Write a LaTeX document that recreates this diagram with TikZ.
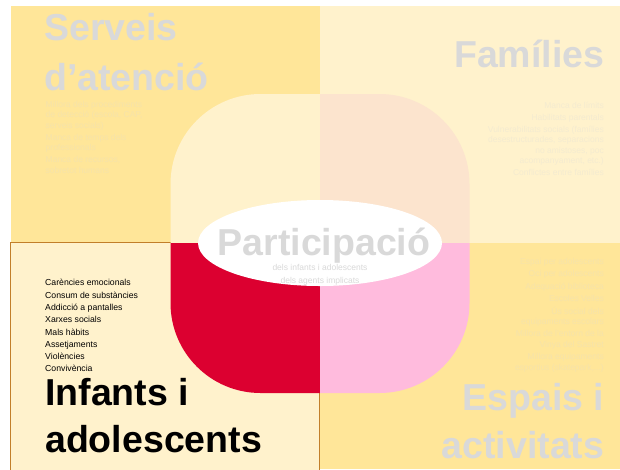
\documentclass[tikz,border=0pt]{standalone}
\usepackage{fontspec}
\setmainfont{Liberation Sans}
\usetikzlibrary{shapes.geometric}
\definecolor{gold}{HTML}{FFE699}
\definecolor{cream}{HTML}{FFF2CC}
\definecolor{peach}{HTML}{FCE4CE}
\definecolor{crimson}{HTML}{DC0030}
\definecolor{rose}{HTML}{FFBBDD}
\definecolor{headgray}{HTML}{D9D9D9}
\definecolor{framecol}{HTML}{C27F2A}
\colorlet{faintgold}{gold!75!headgray}
\colorlet{faintcream}{cream!70!headgray}
\begin{document}
\begin{tikzpicture}[x=1pt,y=-1pt,
  head/.style={font=\fontsize{37.5}{40}\selectfont\bfseries, text=headgray, inner sep=0},
  blackhead/.style={head, text=black},
  body/.style={font=\fontsize{8.5}{10.5}\selectfont, inner sep=0},
  listline/.style={font=\fontsize{8.7}{10.5}\selectfont, inner sep=0, anchor=base west},
  leftline/.style={body, anchor=base west},
  rightline/.style={body, anchor=base east}]
\useasboundingbox (0,0) rectangle (620,469);
\begin{scope}
\path[clip] (0,0) rectangle (620,469);
\fill[white] (0,0) rectangle (620,469);
% quadrants
\fill[gold] (11,6) rectangle (320,242.5);
\fill[cream] (320,6) rectangle (620,242.5);
\fill[gold] (320,242.5) rectangle (620,469);
\filldraw[fill=cream, draw=framecol, line width=1.3pt] (10.5,242.5) rectangle (319.5,480);
% central rounded square
\begin{scope}
\path[clip, rounded corners=90pt] (170.5,94) rectangle (469.5,393);
\fill[cream] (168,92) rectangle (320,243);
\fill[peach] (320,92) rectangle (472,243);
\fill[crimson] (168,243) rectangle (320,395);
\fill[rose] (320,243) rectangle (472,395);
\end{scope}
\fill[white] (320,243) ellipse [x radius=122, y radius=43];
\end{scope}

% centre text
\node[head, anchor=base] (part) at (324,255) {Participació};
\node[body, anchor=base, text=headgray] (sub1) at (320,270) {dels infants i adolescents};
\node[body, anchor=base, text=headgray] (sub2) at (320,283) {dels agents implicats};

% Serveis d'atenció
\node[head, anchor=base west] (serv1) at (44,40.5) {Serveis};
\node[head, anchor=base west] (serv2) at (44,90.5) {d’atenció};
\node[leftline, text=faintgold] (s1) at (45.5,107) {Millora dels procediments};
\node[leftline, text=faintgold] (s2) at (45.5,117.5) {de detecció (escola, CAP,};
\node[leftline, text=faintgold] (s3) at (45.5,128) {serveis socials)};
\node[leftline, text=faintgold] (s4) at (45.5,140) {Manca de temps dels};
\node[leftline, text=faintgold] (s5) at (45.5,150.5) {professionals};
\node[leftline, text=faintgold] (s6) at (45.5,162.5) {Manca de recursos,};
\node[leftline, text=faintgold] (s7) at (45.5,173) {sobretot humans};

% Famílies
\node[head, anchor=base east] (fam) at (604.5,67) {Famílies};
\node[rightline, text=faintcream] (f1) at (604,108) {Manca de límits};
\node[rightline, text=faintcream] (f2) at (604,120) {Habilitats parentals};
\node[rightline, text=faintcream] (f3) at (604,132) {Vulnerabilitats socials (famílies};
\node[rightline, text=faintcream] (f4) at (604,142.5) {desestructurades, separacions};
\node[rightline, text=faintcream] (f5) at (604,153) {no amistoses, poc};
\node[rightline, text=faintcream] (f6) at (604,163.5) {acompanyament, etc.)};
\node[rightline, text=faintcream] (f7) at (604,175.5) {Conflictes entre famílies};

% Espais i activitats
\node[rightline, text=faintgold] (e1) at (604,264.7) {Espai per adolescents};
\node[rightline, text=faintgold] (e2) at (604,276.5) {Oci per adolescents};
\node[rightline, text=faintgold] (e3) at (604,289) {Adequació biblioteca};
\node[rightline, text=faintgold] (e4) at (604,301.3) {Escoles Velles};
\node[rightline, text=faintgold] (e5) at (604,314) {Ús social dels};
\node[rightline, text=faintgold] (e6) at (604,324.5) {equipaments escolars};
\node[rightline, text=faintgold] (e7) at (604,336.5) {Millora de l’entorn de la};
\node[rightline, text=faintgold] (e8) at (604,347) {Vinya del Sastret};
\node[rightline, text=faintgold] (e9) at (604,359.5) {Millora equipaments};
\node[rightline, text=faintgold] (e10) at (604,370) {esportius (skatepark,...)};
\node[head, anchor=base east] (esp1) at (604.5,410) {Espais i};
\node[head, anchor=base east] (esp2) at (604.5,458) {activitats};

% Infants i adolescents
\node[listline] (i1) at (45,285.7) {Carències emocionals};
\node[listline] (i2) at (45,298) {Consum de substàncies};
\node[listline] (i3) at (45,310.3) {Addicció a pantalles};
\node[listline] (i4) at (45,322.8) {Xarxes socials};
\node[listline] (i5) at (45,335.2) {Mals hàbits};
\node[listline] (i6) at (45,347.4) {Assetjaments};
\node[listline] (i7) at (45,359.7) {Violències};
\node[listline] (i8) at (45,371.9) {Convivència};
\node[blackhead, anchor=base west] (inf1) at (45,405) {Infants i};
\node[blackhead, anchor=base west] (inf2) at (45,452) {adolescents};
\end{tikzpicture}
\end{document}
